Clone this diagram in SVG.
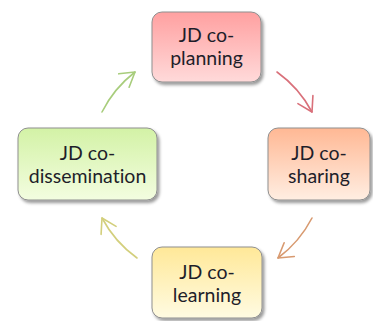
<svg xmlns="http://www.w3.org/2000/svg" width="373" height="321" viewBox="0 0 373 321">
<style>
.box{stroke:#8f8f8f;stroke-width:1}
.lbl{font-family:Lato,"Open Sans","Liberation Sans",sans-serif;font-size:19.5px;fill:#1e1e2a;text-anchor:middle;font-variant-ligatures:none}
.arc{fill:none;stroke-width:1.6;stroke-linecap:round}
</style>
<defs>
<filter id="sh" x="-10%" y="-10%" width="130%" height="130%">
<feDropShadow dx="2" dy="2.5" stdDeviation="1.6" flood-color="#000" flood-opacity="0.4"/>
</filter>
<linearGradient id="gRed" x1="0" y1="0" x2="0" y2="1"><stop offset="0" stop-color="#ffa0a0"/><stop offset="1" stop-color="#ffdada"/></linearGradient>
<linearGradient id="gOr" x1="0" y1="0" x2="0" y2="1"><stop offset="0" stop-color="#ffb894"/><stop offset="1" stop-color="#ffeee2"/></linearGradient>
<linearGradient id="gYe" x1="0" y1="0" x2="0" y2="1"><stop offset="0" stop-color="#ffe898"/><stop offset="1" stop-color="#fffbe2"/></linearGradient>
<linearGradient id="gGr" x1="0" y1="0" x2="0" y2="1"><stop offset="0" stop-color="#d3f2a6"/><stop offset="1" stop-color="#f3fde0"/></linearGradient>
<marker id="m1" markerUnits="userSpaceOnUse" viewBox="-16 -10 18 20" markerWidth="18" markerHeight="20" refX="0" refY="0" orient="auto"><path d="M-14,-8.5 L0,0 L-14,8.5" fill="none" stroke="#d9707a" stroke-width="1.6" stroke-linecap="round" stroke-linejoin="round"/></marker>
<marker id="m2" markerUnits="userSpaceOnUse" viewBox="-16 -10 18 20" markerWidth="18" markerHeight="20" refX="0" refY="0" orient="auto"><path d="M-14,-8.5 L0,0 L-14,8.5" fill="none" stroke="#d89a70" stroke-width="1.6" stroke-linecap="round" stroke-linejoin="round"/></marker>
<marker id="m3" markerUnits="userSpaceOnUse" viewBox="-16 -10 18 20" markerWidth="18" markerHeight="20" refX="0" refY="0" orient="auto"><path d="M-14,-8.5 L0,0 L-14,8.5" fill="none" stroke="#d3cf7c" stroke-width="1.6" stroke-linecap="round" stroke-linejoin="round"/></marker>
<marker id="m4" markerUnits="userSpaceOnUse" viewBox="-16 -10 18 20" markerWidth="18" markerHeight="20" refX="0" refY="0" orient="auto"><path d="M-14,-8.5 L0,0 L-14,8.5" fill="none" stroke="#a8cd7c" stroke-width="1.6" stroke-linecap="round" stroke-linejoin="round"/></marker>
</defs>
<rect width="373" height="321" fill="#ffffff"/>
<g id="connectors">
<path class="arc" d="M277,72 A117,117 0 0 1 312,112" stroke="#d9707a" marker-end="url(#m1)"/>
<path class="arc" d="M312,218 A117,117 0 0 1 278,258" stroke="#d89a70" marker-end="url(#m2)"/>
<path class="arc" d="M137,258 A117,117 0 0 1 102,218" stroke="#d3cf7c" marker-end="url(#m3)"/>
<path class="arc" d="M102,112 A117,117 0 0 1 135,72" stroke="#a8cd7c" marker-end="url(#m4)"/>
</g>
<g id="planning">
<rect class="box" x="152" y="12" width="109" height="70" rx="10" fill="url(#gRed)" filter="url(#sh)"/>
<text class="lbl" x="206.5" y="42">JD co-</text>
<text class="lbl" x="206.5" y="65">planning</text>
</g>
<g id="sharing">
<rect class="box" x="268" y="128" width="102" height="72" rx="10" fill="url(#gOr)" filter="url(#sh)"/>
<text class="lbl" x="319" y="160">JD co-</text>
<text class="lbl" x="319" y="183">sharing</text>
</g>
<g id="learning">
<rect class="box" x="152" y="247" width="110" height="71" rx="10" fill="url(#gYe)" filter="url(#sh)"/>
<text class="lbl" x="207" y="279">JD co-</text>
<text class="lbl" x="207" y="302">learning</text>
</g>
<g id="dissemination">
<rect class="box" x="18" y="128" width="139" height="72" rx="10" fill="url(#gGr)" filter="url(#sh)"/>
<text class="lbl" x="87.5" y="160">JD co-</text>
<text class="lbl" x="87.5" y="183">dissemination</text>
</g>
</svg>
